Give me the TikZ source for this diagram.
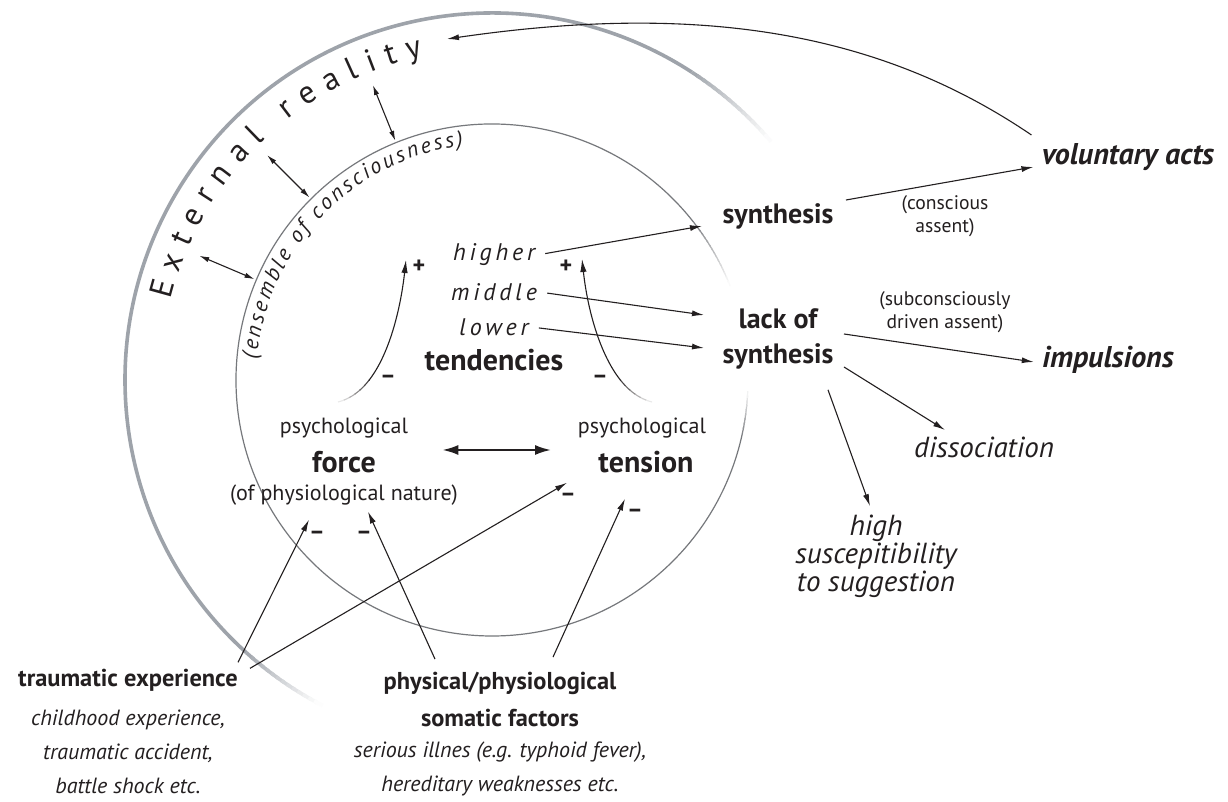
\documentclass[tikz,border=0pt]{standalone}
\usepackage{fontspec}
\setmainfont{PT Sans}
\usetikzlibrary{arrows.meta,calc,positioning,decorations.text}
\definecolor{ringgrey}{RGB}{158,163,170}
\definecolor{innergrey}{RGB}{118,120,124}
\definecolor{inkblack}{RGB}{35,31,32}
\tikzset{
  flow/.style={-{Latex[length=6pt,width=3pt]},line width=0.55pt,draw=inkblack},
  gap/.style={shorten <=4pt},
  link/.style={{Latex[length=5pt,width=2.6pt]}-{Latex[length=5pt,width=2.6pt]},
    line width=0.55pt,draw=inkblack},
  balance/.style={{Latex[length=8pt,width=5pt]}-{Latex[length=8pt,width=5pt]},
    line width=1.1pt,draw=inkblack},
  outerring/.style={draw=ringgrey,line width=1.8pt},
  innerring/.style={draw=innergrey,line width=0.6pt},
  term/.style={font=\fontsize{11}{13}\selectfont,align=center,inner sep=1pt,text=inkblack},
  keyterm/.style={font=\fontsize{15}{15}\selectfont\bfseries,align=center,inner sep=1pt,text=inkblack},
  result/.style={font=\fontsize{14}{17.5}\selectfont\bfseries,align=center,inner sep=1pt,text=inkblack},
  note/.style={font=\fontsize{9.8}{11.2}\selectfont,align=center,inner sep=1pt,text=inkblack},
  outcome/.style={font=\fontsize{14.5}{14}\selectfont\itshape,align=center,inner sep=1pt,text=inkblack},
  boldout/.style={font=\fontsize{15}{15}\selectfont\bfseries\itshape,inner sep=1pt,text=inkblack},
  level/.style={font=\fontsize{12}{12}\selectfont\itshape\addfontfeature{LetterSpace=16},
    inner sep=1pt,text=inkblack},
  cause/.style={font=\fontsize{12.2}{18.5}\selectfont\bfseries,align=center,inner sep=1pt,text=inkblack},
  causedetail/.style={font=\fontsize{11}{17}\selectfont\itshape,align=center,inner sep=1pt,text=inkblack},
  sign/.style={font=\fontsize{12}{12}\selectfont\bfseries,inner sep=0.5pt,text=inkblack},
  ringnode/.style={circle,inner sep=0pt,outer sep=0pt}
}
% rising arrow whose foot fades out
\newcommand{\risecurve}[4]{%
  \foreach \tm/\c in {0/10,0.05/22,0.1/36,0.15/52,0.2/68,0.25/84}{%
    \pgfmathsetmacro{\tmend}{\tm+0.055}%
    \pgfsetlinewidth{0.55pt}\pgfsetstrokecolor{inkblack!\c}%
    \pgfpathcurvebetweentime{\tm}{\tmend}{#1}{#2}{#3}{#4}%
    \pgfusepath{stroke}}%
  \begin{pgfscope}
    \pgfsetlinewidth{0.55pt}\pgfsetstrokecolor{inkblack}\pgfsetfillcolor{inkblack}%
    \pgfsetarrows{-{Latex[length=6.5pt,width=3.2pt]}}%
    \pgfpathcurvebetweentime{0.3}{1}{#1}{#2}{#3}{#4}%
    \pgfusepath{stroke}%
  \end{pgfscope}}

\begin{document}
\begin{tikzpicture}[x=0.5pt,y=0.5pt]
  \path[use as bounding box,fill=white] (0,0) rectangle (1228,802);
  \coordinate (C) at (492,422);
  \node[ringnode,minimum size=256pt] (consc) at (C) {};
  \node[ringnode,minimum size=367pt] (ring) at (C) {};

  % external reality
  \draw[outerring] ($(C)+(57:367)$) arc[start angle=57,end angle=228,radius=367];
  \foreach \i [evaluate=\i as \shade using 100-6*\i] in {1,...,16}
    \draw[outerring,draw=ringgrey!\shade] ($(C)+(58-\i:367)$)
      arc[start angle=58-\i,end angle=56.5-\i,radius=367];
  \foreach \i [evaluate=\i as \shade using 100-7*\i] in {1,...,14}
    \draw[outerring,draw=ringgrey!\shade] ($(C)+(227+\i:367)$)
      arc[start angle=227+\i,end angle=228.5+\i,radius=367];
  \path[decorate,decoration={text along path,text align=fit to path,
      text={|\fontsize{16}{16}\selectfont\color{inkblack}|External reality}}]
    ($(C)+(166:331)$) arc[start angle=166,end angle=102,radius=331];

  % ensemble of consciousness
  \draw[innerring] ($(C)+(38:256)$) arc[start angle=38,end angle=348,radius=256];
  \foreach \i [evaluate=\i as \shade using 100-6*\i] in {1,...,16}
    \draw[innerring,draw=innergrey!\shade] ($(C)+(39-\i:256)$)
      arc[start angle=39-\i,end angle=37.5-\i,radius=256];
  \foreach \i [evaluate=\i as \shade using 100-10*\i] in {1,...,9}
    \draw[innerring,draw=innergrey!\shade] ($(C)+(347+\i:256)$)
      arc[start angle=347+\i,end angle=348.5+\i,radius=256];
  \path[decorate,decoration={text along path,text align=fit to path,
      text={|\fontsize{11}{11}\selectfont\itshape\color{inkblack}|(ensemble of consciousness)}}]
    ($(C)+(175:236)$) arc[start angle=175,end angle=97,radius=236];

  \foreach \a in {157,135,112}
    \draw[link,shorten <=1pt,shorten >=24.5pt] (consc.\a) -- (ring.\a);

  % tendencies
  \node[level] (higher) at (494,547) {higher};
  \node[level] (middle) at (494,510) {middle};
  \node[level] (lower) at (494,475) {lower};
  \node[keyterm] (tend) at (494,442) {tendencies};

  % force and tension
  \node[term] (psyf) at (344,374) {psychological};
  \node[keyterm] (force) at (344,340) {force};
  \node[term] (fnat) at (344,307) {(of physiological nature)};
  \node[term] (psyt) at (642,374) {psychological};
  \node[keyterm] (tension) at (646,340) {tension};
  \draw[balance] ([xshift=32pt,yshift=6pt]force.east) -- ([xshift=-22.5pt,yshift=6pt]tension.west);

  \node[sign] (plusl) at (419,535) {+};
  \node[sign] (plusr) at (566,535) {+};
  \node[sign] (minl) at (388,423) {\textendash};
  \node[sign] (minr) at (600,423) {\textendash};
  \node[sign] (minf1) at (317,267) {\textendash};
  \node[sign] (minf2) at (364,267) {\textendash};
  \node[sign] (mint1) at (568,305) {\textendash};
  \node[sign] (mint2) at (635,289) {\textendash};

  \coordinate (forcerise) at (338,400);
  \coordinate (tensionrise) at (652,400);
  \risecurve{\pgfpointanchor{forcerise}{center}}{\pgfpointxy{378}{410}}{\pgfpointxy{398}{470}}
    {\pgfpointadd{\pgfpointanchor{plusl}{center}}{\pgfpoint{-6.5pt}{3.5pt}}}
  \risecurve{\pgfpointanchor{tensionrise}{center}}{\pgfpointxy{612}{410}}{\pgfpointxy{590}{470}}
    {\pgfpointadd{\pgfpointanchor{plusr}{center}}{\pgfpoint{8pt}{4pt}}}

  % synthesis
  \node[result] (synth) at (778,586) {synthesis};
  \node[note] (assent) at (945,586) {(conscious\\assent)};
  \node[boldout] (vol) at (1128,645) {voluntary acts};
  \node[result] (lack) at (778,463) {lack of\\synthesis};
  \node[note] (subassent) at (945,490) {(subconsciously\\driven assent)};
  \node[boldout] (imp) at (1108,442) {impulsions};
  \node[outcome] (dissoc) at (984,355) {dissociation};
  \node[outcome] (high) at (876,246) {high\\suscepitibility\\to suggestion};
  \coordinate (reality) at (447,763);

  \draw[flow,gap] (higher.east) -- ([xshift=-9pt,yshift=-5pt]synth.west);
  \draw[flow,gap] (middle.east) -- ([xshift=-8pt,yshift=12pt]lack.west);
  \draw[flow,gap] (lower.east) -- ([xshift=-8pt,yshift=-4.5pt]lack.west);
  \draw[flow] ([xshift=5pt,yshift=8pt]synth.east) -- ([xshift=-3pt,yshift=-5pt]vol.west);
  \draw[flow] ([xshift=-4pt,yshift=11pt]vol.west) .. controls (880,770) and (700,800) .. (reality);
  \draw[flow] ([xshift=4pt,yshift=2.5pt]lack.east) -- ([xshift=-3pt,yshift=-1pt]imp.west);
  \draw[flow] ([xshift=4pt,yshift=-14pt]lack.east) -- ([xshift=-19.5pt,yshift=2pt]dissoc.north);
  \draw[flow] ([xshift=25pt,yshift=-9pt]lack.south) -- ([xshift=-3pt,yshift=3pt]high.north);

  % causes
  \node[cause] (trauma) at (128,122) {traumatic experience};
  \node[causedetail] (traumadet) at (128,50) {childhood experience,\\traumatic accident,\\battle shock etc.};
  \node[cause] (somatic) at (500,103) {physical/physiological\\somatic factors};
  \node[causedetail] (somadet) at (500,33) {serious illnes (e.g. typhoid fever),\\hereditary weaknesses etc.};

  \draw[flow] ([xshift=55pt,yshift=2pt]trauma.north) -- ([xshift=-17.5pt,yshift=-6pt]fnat.south);
  \draw[flow] ([xshift=61pt,yshift=-1pt]trauma.north) -- ([xshift=-39.5pt,yshift=-3.75pt]tension.south);
  \draw[flow] ([xshift=-32.5pt,yshift=5pt]somatic.north) -- ([xshift=12pt,yshift=-2pt]fnat.south);
  \draw[flow] ([xshift=26.5pt,yshift=6pt]somatic.north) -- ([xshift=-10.5pt,yshift=-11.75pt]tension.south);
\end{tikzpicture}
\end{document}
